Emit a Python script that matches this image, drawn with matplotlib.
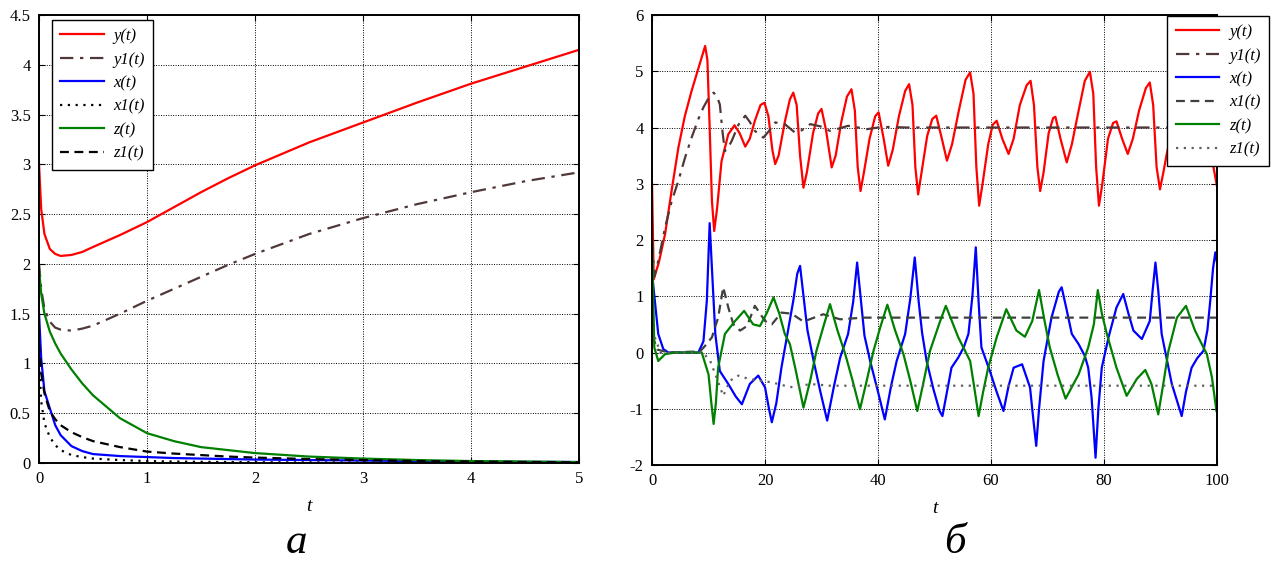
import matplotlib
matplotlib.use("Agg")
import matplotlib.pyplot as plt

plt.rcParams['font.family'] = ['Liberation Serif', 'DejaVu Serif']
plt.rcParams['axes.unicode_minus'] = False

# ---- panel a: t in [0, 5]
ta = [0, 0.02, 0.05, 0.1, 0.15, 0.2, 0.3, 0.4, 0.5, 0.75, 1, 1.25, 1.5, 1.75,
      2, 2.5, 3, 3.5, 4, 4.5, 5]
ya = [3.0, 2.55, 2.3, 2.15, 2.1, 2.08, 2.09, 2.12, 2.17, 2.29, 2.42, 2.57, 2.72,
      2.86, 2.99, 3.22, 3.42, 3.62, 3.81, 3.98, 4.15]
y1a = [2.0, 1.75, 1.55, 1.42, 1.36, 1.34, 1.33, 1.35, 1.38, 1.5, 1.63, 1.75, 1.87,
       1.99, 2.1, 2.3, 2.46, 2.6, 2.72, 2.83, 2.92]
xa = [1.5, 1.05, 0.72, 0.55, 0.38, 0.28, 0.17, 0.12, 0.09, 0.07, 0.06, 0.05, 0.045,
      0.04, 0.035, 0.03, 0.025, 0.02, 0.015, 0.012, 0.01]
x1a = [1.0, 0.62, 0.4, 0.26, 0.18, 0.13, 0.08, 0.06, 0.045, 0.03, 0.02, 0.015, 0.012,
       0.01, 0.008, 0.006, 0.005, 0.004, 0.003, 0.002, 0.002]
za = [1.95, 1.7, 1.5, 1.32, 1.2, 1.1, 0.94, 0.8, 0.68, 0.45, 0.3, 0.22, 0.16,
      0.13, 0.1, 0.065, 0.045, 0.03, 0.02, 0.015, 0.01]
z1a = [1.2, 0.9, 0.7, 0.52, 0.44, 0.38, 0.31, 0.26, 0.22, 0.16, 0.115, 0.095, 0.08,
       0.065, 0.055, 0.04, 0.03, 0.02, 0.015, 0.01, 0.008]

# ---- panel b: t in [0, 100]
t_y = [0, 0.3, 1.2, 2.3, 3.5, 4.66, 5.8, 7.0, 8.2, 9.4, 9.8, 10.2, 10.6, 11.0, 11.5,
       12.3, 13.5, 14.6, 15.5, 16.5, 17.3, 18.2, 19.2, 19.9, 20.6, 21.3, 21.8, 22.4,
       23.5, 24.4, 25.0, 25.6, 26.2, 26.8, 27.4, 28.5, 29.4, 30.0, 30.8, 31.8, 32.5,
       33.5, 34.5, 35.3, 35.9, 36.4, 36.9, 37.5, 38.5, 39.5, 40.1, 41.0, 41.8, 42.6,
       43.7, 44.8, 45.5, 46.1, 46.6, 47.1, 47.7, 48.7, 49.6, 50.3, 51.3, 52.2, 53.1,
       54.3, 55.5, 56.3, 56.9, 57.4, 57.9, 58.5, 59.5, 60.3, 61.0, 62.0, 63.1, 64.0,
       65.1, 66.3, 67.0, 67.6, 68.2, 68.7, 69.3, 70.2, 71.0, 71.4, 72.3, 73.4, 74.3,
       75.3, 76.6, 77.5, 78.1, 78.6, 79.1, 79.7, 80.7, 81.6, 82.2, 83.2, 84.2, 85.1,
       86.2, 87.4, 88.1, 88.7, 89.3, 89.9, 90.5, 91.1, 92.5, 93.3, 94.5, 95.5, 97.0,
       97.6, 98.3, 99.0, 100]
y_b = [3.0, 1.3, 1.6, 2.1, 2.9, 3.64, 4.2, 4.65, 5.05, 5.45, 5.2, 4.0, 2.7, 2.16, 2.55,
       3.4, 3.88, 4.04, 3.9, 3.66, 3.8, 4.12, 4.4, 4.44, 4.2, 3.6, 3.35, 3.5,
       4.1, 4.5, 4.62, 4.4, 3.5, 2.93, 3.2, 3.9, 4.25, 4.33, 3.95, 3.29, 3.5,
       4.1, 4.55, 4.68, 4.3, 3.3, 2.87, 3.2, 3.8, 4.2, 4.27, 3.8, 3.32, 3.6,
       4.2, 4.65, 4.77, 4.4, 3.3, 2.81, 3.2, 3.85, 4.15, 4.21, 3.8, 3.41, 3.7,
       4.3, 4.85, 4.98, 4.6, 3.3, 2.61, 3.0, 3.7, 4.05, 4.12, 3.8, 3.53, 3.8,
       4.4, 4.75, 4.83, 4.4, 3.3, 2.87, 3.2, 3.9, 4.17, 4.19, 3.8, 3.38, 3.7,
       4.2, 4.83, 4.99, 4.6, 3.3, 2.61, 3.0, 3.8, 4.08, 4.11, 3.8, 3.53, 3.8,
       4.3, 4.7, 4.8, 4.4, 3.3, 2.9, 3.2, 3.53, 4.2, 4.25, 3.6, 3.9, 4.6,
       4.7, 4.3, 3.5, 2.95]

t_y1 = [0, 0.4, 1.1, 2.3, 3.5, 4.66, 5.8, 7.0, 8.2, 9.1, 10.0, 10.9, 11.5, 12.0, 12.5,
        12.9, 13.5, 14.1, 15.3, 16.5, 17.3, 18.2, 19.7, 20.8, 21.8, 23.5, 25.3, 26.5,
        28.0, 29.8, 31.5, 33.0, 34.7, 36.5, 38.0, 40, 42, 45, 100]
y1_b = [2.0, 1.35, 1.63, 2.22, 2.7, 3.05, 3.45, 3.82, 4.15, 4.36, 4.52, 4.62, 4.55, 4.41, 3.9,
        3.58, 3.65, 3.76, 4.05, 4.21, 4.1, 3.94, 3.82, 3.95, 4.09, 4.06, 3.91, 3.95,
        4.06, 4.02, 3.94, 3.98, 4.03, 4.0, 3.97, 4.0, 4.01, 4.0, 4.0]

t_x = [0, 0.5, 1.1, 2.0, 2.9, 5.0, 8.2, 9.1, 9.7, 10.2, 10.6, 11.2, 12.0, 13.5, 14.8,
       15.9, 17.3, 18.8, 20.0, 20.7, 21.2, 22.0, 22.9, 24.0, 25.0, 25.7, 26.2, 26.7,
       27.5, 28.6, 29.8, 31.0, 32.2, 33.3, 34.7, 35.6, 36.3, 37.0, 37.6, 38.6, 40.0,
       41.2, 42.3, 43.3, 44.8, 45.7, 46.5, 47.2, 47.8, 48.6, 49.8, 50.9, 51.4, 52.2,
       53.0, 54.2, 55.2, 56.0, 56.7, 57.3, 57.8, 58.3, 59.8, 61.0, 62.2, 63.1, 64.0,
       65.5, 66.9, 67.5, 68.0, 68.5, 69.3, 70.7, 72.0, 72.5, 73.3, 74.3, 75.5, 76.6,
       77.2, 77.8, 78.5, 79.0, 79.6, 80.8, 82.2, 83.4, 84.3, 85.2, 86.7, 88.1, 88.6,
       89.1, 89.6, 90.2, 92.0, 93.75, 94.5, 95.5, 96.5, 97.6, 98.3, 98.8, 99.3, 99.7, 100]
x_b = [1.4, 0.92, 0.33, 0.06, 0.0, 0.0, 0.0, 0.2, 0.92, 2.3, 1.5, 0.33, -0.33, -0.56, -0.78,
       -0.92, -0.56, -0.41, -0.62, -1.0, -1.24, -0.9, -0.27, 0.35, 0.92, 1.4, 1.54, 1.1,
       0.4, -0.15, -0.7, -1.21, -0.6, -0.09, 0.33, 0.9, 1.6, 0.9, 0.3, -0.15, -0.7,
       -1.19, -0.6, -0.15, 0.33, 0.95, 1.69, 0.9, 0.35, -0.15, -0.65, -1.04, -1.13, -0.7,
       -0.27, -0.09, 0.1, 0.33, 1.0, 1.87, 0.9, 0.09, -0.33, -0.7, -1.04, -0.6, -0.27,
       -0.21, -0.62, -1.2, -1.66, -1.0, -0.15, 0.62, 1.08, 1.16, 0.8, 0.33, 0.15, -0.06,
       -0.27, -0.8, -1.87, -1.0, -0.27, 0.27, 0.8, 1.04, 0.7, 0.39, 0.24, 0.56, 1.1,
       1.6, 1.1, 0.33, -0.56, -1.13, -0.7, -0.27, -0.1, 0.03, 0.4, 0.92, 1.5, 1.78, 1.6]

t_x1 = [0, 1.0, 3.0, 8.5, 9.4, 10.6, 11.7, 12.6, 13.5, 14.4, 15.6, 16.8, 18.2, 20.0,
        21.2, 22.9, 24.7, 26.8, 30.3, 33.3, 37.4, 100]
x1_b = [0.3, 0.05, 0.0, 0.02, 0.12, 0.27, 0.62, 1.16, 0.8, 0.5, 0.39, 0.47, 0.83, 0.56,
        0.5, 0.71, 0.69, 0.55, 0.68, 0.59, 0.62, 0.62]

t_z = [0, 0.4, 1.1, 2.3, 4.1, 8.8, 10.0, 10.5, 10.9, 11.3, 11.7, 12.9, 14.7, 16.3, 17.9,
       19.1, 20.3, 21.5, 22.5, 23.5, 24.4, 25.4, 26.8, 28.0, 29.1, 30.3, 31.5, 32.8,
       34.2, 35.5, 36.8, 38.0, 39.2, 40.4, 41.65, 43.0, 44.5, 45.7, 46.95, 48.0, 49.2,
       51.0, 52.0, 54.2, 56.3, 57.0, 57.8, 58.6, 59.5, 61.0, 62.7, 64.5, 66.0, 67.3,
       68.5, 69.4, 70.4, 71.8, 73.2, 75.5, 77.2, 78.2, 78.9, 79.6, 80.5, 82.2, 84.0,
       85.8, 87.3, 88.4, 89.6, 90.5, 91.4, 92.9, 94.5, 96.1, 98.2, 99.1, 99.9]
z_b = [2.0, 0.09, -0.15, -0.03, 0.0, 0.0, -0.39, -0.9, -1.27, -0.9, -0.27, 0.33, 0.56, 0.74, 0.5,
       0.47, 0.7, 0.98, 0.7, 0.33, 0.15, -0.3, -0.98, -0.5, 0.03, 0.45, 0.86, 0.4,
       -0.03, -0.5, -1.01, -0.5, 0.03, 0.45, 0.85, 0.4, -0.03, -0.5, -1.04, -0.55, 0.03,
       0.56, 0.83, 0.27, -0.15, -0.6, -1.13, -0.7, -0.27, 0.27, 0.77, 0.39, 0.28, 0.56,
       1.11, 0.6, 0.09, -0.4, -0.82, -0.39, 0.09, 0.5, 1.11, 0.7, 0.33, -0.27, -0.77,
       -0.47, -0.31, -0.56, -1.1, -0.55, 0.03, 0.62, 0.83, 0.39, -0.03, -0.44, -1.04]

t_z1 = [0, 1.5, 9.0, 10.3, 11.4, 12.6, 13.8, 15.3, 17.1, 19.1, 21.2, 23.5, 25.0, 28.0,
        31.5, 100]
z1_b = [0.4, 0.0, 0.0, -0.15, -0.44, -0.77, -0.5, -0.41, -0.47, -0.5, -0.53, -0.59, -0.62,
        -0.56, -0.59, -0.59]

labels = ['y(t)', 'y1(t)', 'x(t)', 'x1(t)', 'z(t)', 'z1(t)']

brown = '#503838'
dashdot = (0, (6, 3, 1.5, 3))
dashed = (0, (4, 2.5))
dotted = (0, (1, 2.5))
lw = 1.6

fig = plt.figure(figsize=(12.8, 5.64), dpi=100)
ax1 = fig.add_axes([0.0305, 0.179, 0.4218, 0.7944])
ax2 = fig.add_axes([0.5094, 0.1755, 0.4414, 0.7979])

ax1.plot(ta, ya, color='red', lw=lw, label=labels[0])
ax1.plot(ta, y1a, color=brown, lw=lw, ls=dashdot, label=labels[1])
ax1.plot(ta, xa, color='blue', lw=lw, label=labels[2])
ax1.plot(ta, x1a, color='black', lw=lw, ls=dotted, label=labels[3])
ax1.plot(ta, za, color='green', lw=lw, label=labels[4])
ax1.plot(ta, z1a, color='black', lw=lw, ls=dashed, label=labels[5])
ax1.set_xlim(0, 5)
ax1.set_ylim(0, 4.5)
ax1.set_xticks([0, 1, 2, 3, 4, 5])
ax1.set_yticks([0, 0.5, 1, 1.5, 2, 2.5, 3, 3.5, 4, 4.5])
ax1.set_yticklabels(['0', '0.5', '1', '1.5', '2', '2.5', '3', '3.5', '4', '4.5'])

ax2.plot(t_y, y_b, color='red', lw=lw, label=labels[0])
ax2.plot(t_y1, y1_b, color=brown, lw=lw, ls=dashdot, label=labels[1])
ax2.plot(t_x, x_b, color='blue', lw=lw, label=labels[2])
ax2.plot(t_x1, x1_b, color='#404040', lw=lw, ls=dashed, label=labels[3])
ax2.plot(t_z, z_b, color='green', lw=lw, label=labels[4])
ax2.plot(t_z1, z1_b, color='#606060', lw=lw, ls=dotted, label=labels[5])
ax2.set_xlim(0, 100)
ax2.set_ylim(-2, 6)
ax2.set_xticks([0, 20, 40, 60, 80, 100])
ax2.set_yticks([-2, -1, 0, 1, 2, 3, 4, 5, 6])

for ax in (ax1, ax2):
    ax.grid(True, color='black', ls=(0, (1, 1.5)), lw=0.7)
    ax.tick_params(direction='in', top=True, right=True, labelsize=12, length=4,
                   pad=6)
    for s in ax.spines.values():
        s.set_linewidth(1.4)
    ax.set_xlabel('t', fontstyle='italic', fontsize=14, labelpad=8)

leg_kw = dict(prop={'family': 'Liberation Serif', 'style': 'italic', 'size': 12},
              fancybox=False, edgecolor='black', framealpha=1, handlelength=2.6,
              labelspacing=0.45, borderaxespad=0, handletextpad=0.6,
              borderpad=0.5)
l1 = ax1.legend(loc='upper left', bbox_to_anchor=(0.024, 0.989), **leg_kw)
l2 = ax2.legend(loc='upper left', bbox_to_anchor=(0.912, 0.998), **leg_kw)
for l in (l1, l2):
    l.get_frame().set_linewidth(1.0)

fig.text(0.232, 0.004, 'а', fontsize=31, fontstyle='italic', ha='center', va='bottom')
fig.text(0.746, 0.004, 'б', fontsize=31, fontstyle='italic', ha='center', va='bottom')

fig.savefig('out.png', dpi=100)
